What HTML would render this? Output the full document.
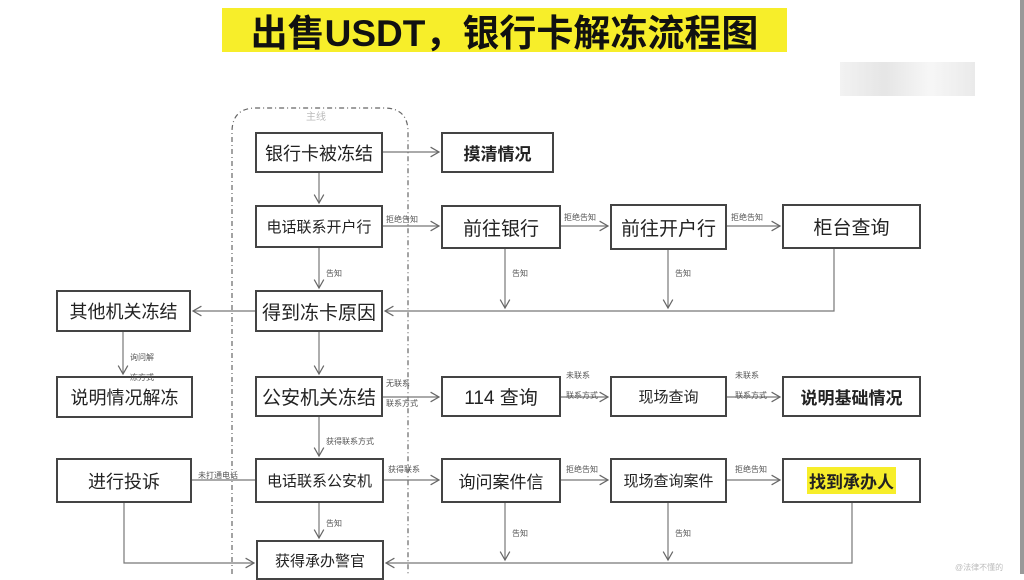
<!DOCTYPE html>
<html><head><meta charset="utf-8"><style>
body{margin:0;width:1024px;height:574px;background:#fff;position:relative;overflow:hidden;font-family:"Liberation Sans","Noto Sans CJK SC",sans-serif;}
.b{position:absolute;border:2px solid #444;box-sizing:border-box;display:flex;align-items:center;justify-content:center;color:#222;font-size:17px;background:#fff}
.t{position:absolute;left:222px;top:8px;width:565px;height:44px;background:#f7ee2a;font-size:37px;font-weight:bold;display:flex;align-items:center;justify-content:center;color:#111}
.l{position:absolute;font-size:8px;color:#555}
</style></head><body>
<div class="t">出售USDT，银行卡解冻流程图</div>
<div style="position:absolute;left:840px;top:62px;width:135px;height:34px;background:linear-gradient(90deg,#e5e5e5,#ccc,#eee,#d5d5d5);opacity:.5"></div>
<div style="position:absolute;right:0;top:0;width:4px;height:574px;background:#999"></div>
<svg width="1024" height="574" style="position:absolute;left:0;top:0">
<defs><marker id="a" markerWidth="10" markerHeight="10" refX="8" refY="5" orient="auto"><path d="M1,1 L8,5 L1,9" fill="none" stroke="#666" stroke-width="1"/></marker></defs>
<path d="M232,574 V132 Q232,108 256,108 H384 Q408,108 408,132 V574" fill="none" stroke="#666" stroke-dasharray="5,3,1,3" stroke-width="1.2"/>
<g stroke="#777" stroke-width="1.2" fill="none" marker-end="url(#a)">
<path d="M383,152 H439"/><path d="M319,173 V203"/><path d="M383,226 H439"/><path d="M561,226 H608"/><path d="M727,226 H780"/>
<path d="M319,248 V288"/><path d="M505,249 V308"/><path d="M668,250 V308"/>
<path d="M834,249 V311 H385"/><path d="M255,311 H193"/><path d="M123,332 V374"/>
<path d="M319,332 V374"/><path d="M383,397 H439"/><path d="M561,397 H608"/><path d="M727,397 H780"/>
<path d="M319,417 V456"/><path d="M384,480 H439"/><path d="M561,480 H608"/><path d="M727,480 H780"/>
<path d="M319,503 V538"/><path d="M505,503 V560"/><path d="M668,503 V560"/>
<path d="M852,503 V563 H386"/><path d="M124,503 V563 H254"/>
</g>
<path d="M192,480 H255" stroke="#777" stroke-width="1.2"/>
</svg>
<div class="l" style="left:306px;top:108px;color:#bbb;font-size:10px">主线</div>
<div class="b" style="left:255px;top:132px;width:128px;height:41px;font-size:18px">银行卡被冻结</div>
<div class="b" style="left:441px;top:132px;width:113px;height:41px;font-weight:bold">摸清情况</div>
<div class="b" style="left:255px;top:205px;width:128px;height:43px;font-size:15px">电话联系开户行</div>
<div class="b" style="left:441px;top:205px;width:120px;height:44px;font-size:19px">前往银行</div>
<div class="b" style="left:610px;top:204px;width:117px;height:46px;font-size:19px">前往开户行</div>
<div class="b" style="left:782px;top:204px;width:139px;height:45px;font-size:19px">柜台查询</div>
<div class="b" style="left:56px;top:290px;width:135px;height:42px;font-size:18px">其他机关冻结</div>
<div class="b" style="left:255px;top:290px;width:128px;height:42px;font-size:19px">得到冻卡原因</div>
<div class="b" style="left:56px;top:376px;width:137px;height:42px;font-size:18px">说明情况解冻</div>
<div class="b" style="left:255px;top:376px;width:128px;height:41px;font-size:19px">公安机关冻结</div>
<div class="b" style="left:441px;top:376px;width:120px;height:41px;font-size:19px">114 查询</div>
<div class="b" style="left:610px;top:376px;width:117px;height:41px;font-size:15px">现场查询</div>
<div class="b" style="left:782px;top:376px;width:139px;height:41px;font-size:17px;font-weight:bold">说明基础情况</div>
<div class="b" style="left:56px;top:458px;width:136px;height:45px;font-size:18px">进行投诉</div>
<div class="b" style="left:255px;top:458px;width:129px;height:45px;font-size:15px">电话联系公安机</div>
<div class="b" style="left:441px;top:458px;width:120px;height:45px;font-size:17px">询问案件信</div>
<div class="b" style="left:610px;top:458px;width:117px;height:45px;font-size:15px">现场查询案件</div>
<div class="b" style="left:782px;top:458px;width:139px;height:45px;font-size:17px;font-weight:bold"><span style="background:#f7ee2a;padding:1px 2px">找到承办人</span></div>
<div class="b" style="left:256px;top:540px;width:128px;height:40px;font-size:15px">获得承办警官</div>
<div class="l" style="left:386px;top:214px">拒绝告知</div>
<div class="l" style="left:564px;top:212px">拒绝告知</div>
<div class="l" style="left:731px;top:212px">拒绝告知</div>
<div class="l" style="left:326px;top:268px">告知</div>
<div class="l" style="left:512px;top:268px">告知</div>
<div class="l" style="left:675px;top:268px">告知</div>
<div class="l" style="left:130px;top:352px">询问解<br><br>冻方式</div>
<div class="l" style="left:386px;top:378px">无联系<br><br>联系方式</div>
<div class="l" style="left:566px;top:370px">未联系<br><br>联系方式</div>
<div class="l" style="left:735px;top:370px">未联系<br><br>联系方式</div>
<div class="l" style="left:326px;top:436px">获得联系方式</div>
<div class="l" style="left:198px;top:470px">未打通电话</div>
<div class="l" style="left:388px;top:464px">获得联系</div>
<div class="l" style="left:566px;top:464px">拒绝告知</div>
<div class="l" style="left:735px;top:464px">拒绝告知</div>
<div class="l" style="left:326px;top:518px">告知</div>
<div class="l" style="left:512px;top:528px">告知</div>
<div class="l" style="left:675px;top:528px">告知</div>
<div class="l" style="left:955px;top:562px;color:#bbb">@法律不懂的</div>
</body></html>
